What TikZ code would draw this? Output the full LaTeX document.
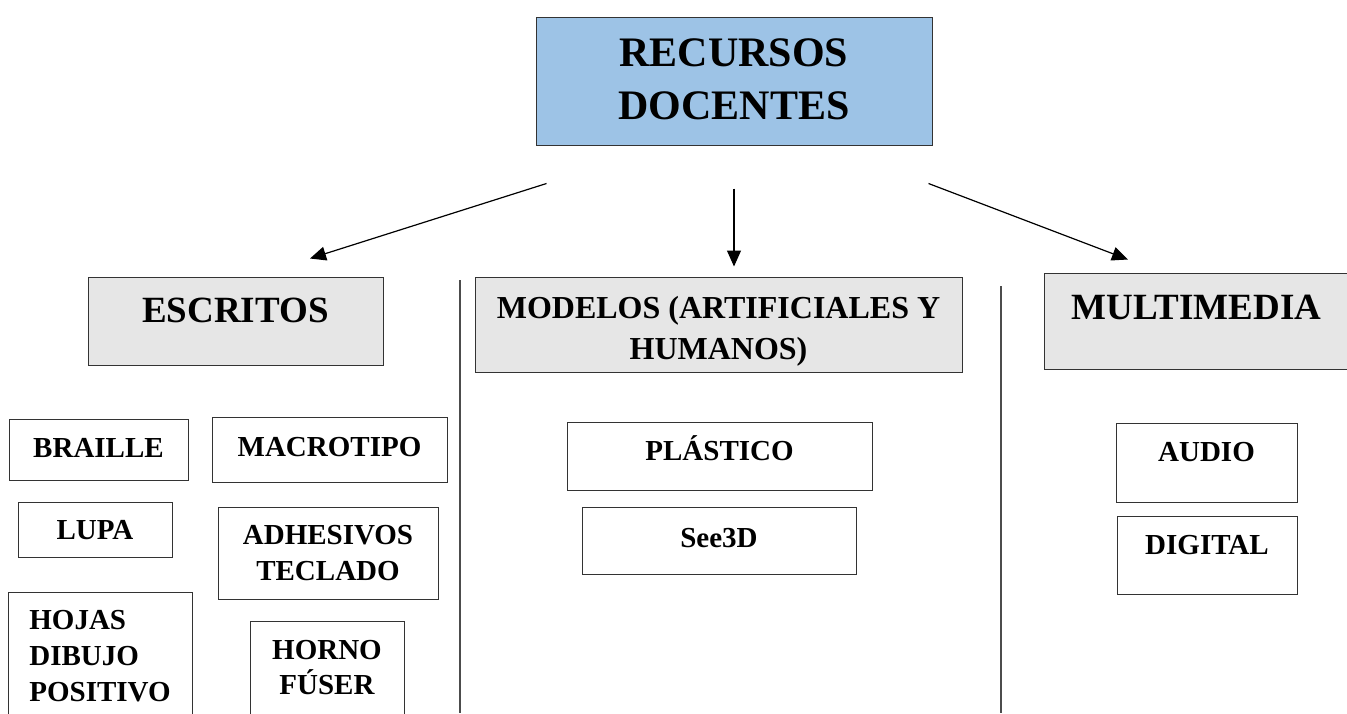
\documentclass[tikz,border=0pt]{standalone}
\usepackage{fontspec}
\setmainfont{Liberation Serif}
\usetikzlibrary{arrows.meta}
\definecolor{rootblue}{HTML}{9DC3E6}
\definecolor{groupgray}{HTML}{E6E6E6}
\tikzset{
  every picture/.style={font={\rmfamily\bfseries}, >={Triangle[length=16pt,width=14pt]}}}

\begin{document}
\begin{tikzpicture}[x=1pt, y=-1pt,
    box/.style={
      draw=black!80,
      line width=1pt,
      inner sep=0pt,
      align=center},
    rootbox/.style={box, fill=rootblue,
      font={\bfseries\fontsize{42}{52.5}\selectfont}},
    groupbox/.style={box, fill=groupgray,
      font={\bfseries\fontsize{37}{46}\selectfont}, text height=24.5pt},
    itembox/.style={box, fill=white,
      font={\bfseries\fontsize{29}{35.5}\selectfont}, text height=19pt},
    divider/.style={draw=black!70, line width=1.6pt},
    link/.style={->, line width=1.2pt}]

    \useasboundingbox (0,0) rectangle (1347,713);
    \clip (0,0) rectangle (1347,713);

    \node[rootbox, minimum width=396pt, minimum height=128pt, text height=80.5pt, text depth=4.5pt] (root) at (734,81) {RECURSOS\\DOCENTES};

    \node[groupbox, minimum width=295pt, minimum height=88pt, text depth=22pt] (escritos) at (235.5,321) {ESCRITOS};
    \node[groupbox, minimum width=487pt, minimum height=95pt, text height=69pt, text depth=0pt,
      font={\bfseries\fontsize{32}{41}\selectfont}] (modelos) at (718.5,324.5) {MODELOS (ARTIFICIALES Y\\HUMANOS)};
    \node[groupbox, minimum width=305pt, minimum height=96pt, text depth=28pt] (multimedia) at (1196.5,321) {MULTIMEDIA};

    \draw[link] ([shift={(11,38)}]root.south west) -- ([shift={(74.5,-18)}]escritos.north);
    \draw[link] ([shift={(0,43)}]root.south) -- ([shift={(15.5,-10)}]modelos.north);
    \draw[link] ([shift={(-4,38)}]root.south east) -- ([shift={(-68.5,-13)}]multimedia.north);

    \draw[divider] (460,280) -- (460,713);
    \draw[divider] (1001,286) -- (1001,713);

    % escritos
    \node[itembox, minimum width=179pt, minimum height=61pt, text depth=3pt] (braille) at (98.5,449.5) {BRAILLE};
    \node[itembox, minimum width=235pt, minimum height=65pt, text depth=6pt] (macrotipo) at (329.5,449.5) {MACROTIPO};
    \node[itembox, minimum width=154pt, minimum height=55pt, text depth=0pt] (lupa) at (95,529.5) {LUPA};
    \node[itembox, minimum width=220pt, minimum height=92pt, text height=54.5pt, text depth=0pt] (adhesivos) at (328,553) {ADHESIVOS\\TECLADO};
    \node[itembox, align=left, minimum width=184pt, minimum height=128pt, text height=91pt, text depth=0pt,
      font={\bfseries\fontsize{29}{36}\selectfont}] (hojas) at (100,656) {HOJAS\\DIBUJO\\POSITIVO};
    \node[itembox, minimum width=154pt, minimum height=93pt, text height=54pt, text depth=0pt,
      font={\bfseries\fontsize{29}{35}\selectfont}] (horno) at (327,667.5) {HORNO\\FÚSER};

    % modelos
    \node[itembox, minimum width=305pt, minimum height=68pt, text depth=11pt] (plastico) at (719.5,456) {PLÁSTICO};
    \node[itembox, minimum width=274pt, minimum height=67pt, text depth=6pt] (see3d) at (719,540.5) {See3D};

    % multimedia
    \node[itembox, minimum width=181pt, minimum height=79pt, text depth=21pt] (audio) at (1206.5,462.5) {AUDIO};
    \node[itembox, minimum width=180pt, minimum height=78pt, text depth=20pt] (digital) at (1207,555) {DIGITAL};
\end{tikzpicture}
\end{document}
